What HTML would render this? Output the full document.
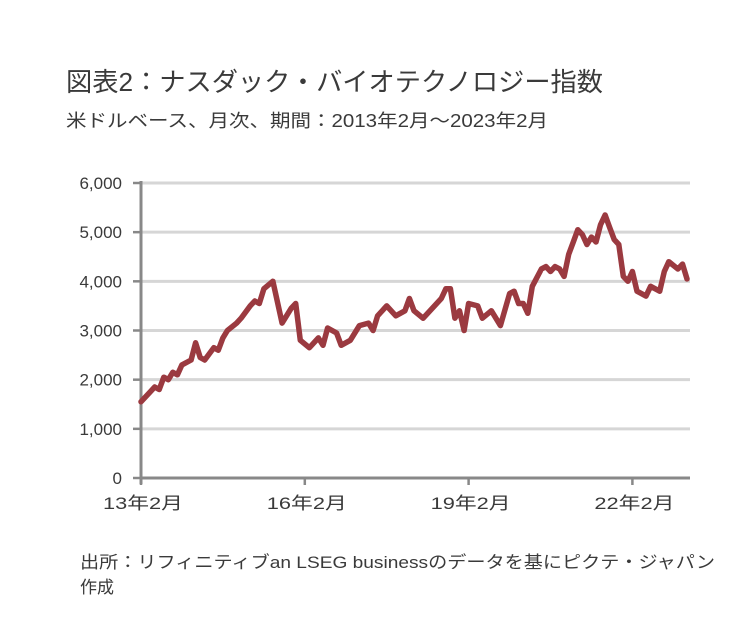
<!DOCTYPE html>
<html><head><meta charset="utf-8"><style>
body{margin:0;background:#fff;}
svg text{font-family:"Liberation Sans","Noto Sans CJK JP",sans-serif;fill:#3a3a3a;}
</style></head><body>
<svg width="756" height="624" viewBox="0 0 756 624">
<text x="66" y="91" font-size="26" textLength="537" lengthAdjust="spacingAndGlyphs">図表2：ナスダック・バイオテクノロジー指数</text>
<text x="66" y="127" font-size="18" textLength="482" lengthAdjust="spacingAndGlyphs">米ドルベース、月次、期間：2013年2月～2023年2月</text>
<g id="grid"></g><g id="axes"></g>
<path id="line" fill="none" stroke="#9b3a40" stroke-width="5.5" stroke-linejoin="round" stroke-linecap="round"/>
<text x="80" y="568" font-size="17" textLength="635" lengthAdjust="spacingAndGlyphs">出所：リフィニティブan LSEG businessのデータを基にピクテ・ジャパン</text>
<text x="80" y="593" font-size="17">作成</text>
</svg>
<script>
const months=[0,2,3,4,5,6,7,8,9,11,12,13,14,16,17,18,19,21,22,24,25,26,27,29,31,33,34,35,37,39,40,41,43,44,46,48,50,51,52,54,56,58,59,60,62,64,66,67,68,69,70,71,72,74,75,77,79,81,82,83,84,85,86,88,89,90,91,92,93,94,95,96,97,98,99,100,101,102,103,104,105,106,107,108,109,111,112,114,115,116,118,119,120];
const values=[1550,1750,1850,1800,2050,2000,2150,2100,2300,2400,2750,2450,2400,2650,2600,2850,3000,3150,3250,3500,3600,3550,3850,4000,3150,3450,3550,2800,2650,2850,2700,3050,2950,2700,2800,3100,3150,3000,3300,3500,3300,3400,3650,3400,3250,3450,3650,3850,3850,3250,3400,3000,3550,3500,3250,3400,3100,3750,3800,3550,3550,3350,3900,4250,4300,4200,4300,4250,4100,4550,4800,5050,4950,4750,4900,4800,5150,5350,5100,4850,4750,4100,4000,4200,3800,3700,3900,3800,4200,4400,4250,4350,4050];
const yTicks=[0,1000,2000,3000,4000,5000,6000];
const yTickLabels=["0","1,000","2,000","3,000","4,000","5,000","6,000"];
const xTicks=[0,36,72,108];
const xTickLabels=["13年2月","16年2月","19年2月","22年2月"];
const X0=141,X1=690,Y0=478,Y1=183;
const xs=m=>X0+m*(687-X0)/120;
const ys=v=>Y0-v*(Y0-Y1)/6000;
const NS="http://www.w3.org/2000/svg";
const grid=document.getElementById('grid'),axes=document.getElementById('axes');
function mk(tag,attrs,parent){const e=document.createElementNS(NS,tag);for(const k in attrs)e.setAttribute(k,attrs[k]);parent.appendChild(e);return e;}
yTicks.forEach((v,i)=>{
  const y=ys(v);
  if(v>0){const g=mk('line',{x1:X0,x2:X1,y1:y,y2:y,stroke:'#d6d6d6','stroke-width':3},grid);
  
  }
  const t=mk('line',{x1:X0-8,x2:X0,y1:y,y2:y,stroke:'#888','stroke-width':2.5},axes);
  
  
  const l=mk('text',{x:122,y:y+6,'font-size':17,'text-anchor':'end'},axes);l.textContent=yTickLabels[i];
  
  
});
const ya=mk('line',{x1:X0,x2:X0,y1:Y1-2,y2:Y0+6,stroke:'#888','stroke-width':3},axes);


const xa=mk('line',{x1:X0,x2:X1,y1:Y0,y2:Y0,stroke:'#888','stroke-width':3},axes);


xTicks.forEach((m,i)=>{
  const x=xs(m);
  const t=mk('line',{x1:x,x2:x,y1:Y0,y2:Y0+7,stroke:'#888','stroke-width':2.5},axes);
  
  
  const l=mk('text',{x:x+2,y:Y0+31,'font-size':17,'text-anchor':'middle',textLength:80,lengthAdjust:'spacingAndGlyphs'},axes);l.textContent=xTickLabels[i];
  
  
});
document.getElementById('line').setAttribute('d',months.map((m,i)=>(i?'L':'M')+xs(m).toFixed(1)+','+ys(values[i]).toFixed(1)).join(''));
</script>
</body></html>
